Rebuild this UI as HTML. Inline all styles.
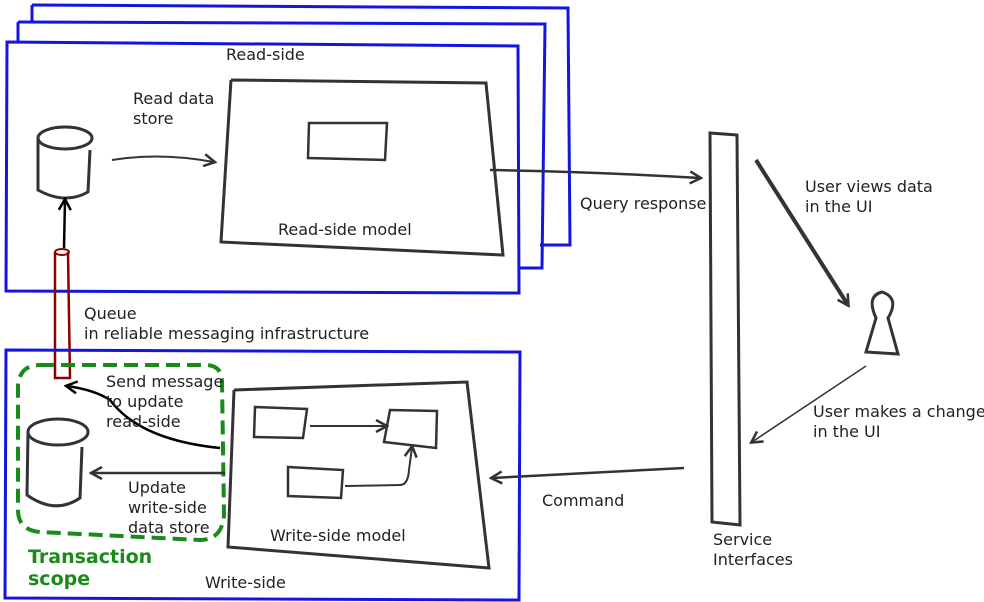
<!DOCTYPE html>
<html><head><meta charset="utf-8"><style>
html,body{margin:0;padding:0;background:#fff;}
svg{display:block;}
text{font-family:"DejaVu Sans","Liberation Sans",sans-serif;font-size:16px;fill:#222;}
</style></head><body>
<svg width="984" height="602" viewBox="0 0 984 602" xmlns="http://www.w3.org/2000/svg">
<defs>
<marker id="ah" markerWidth="14" markerHeight="14" refX="11" refY="7" orient="auto" markerUnits="userSpaceOnUse">
<path d="M1,1 L12,7 L1,13" fill="none" stroke="#333" stroke-width="2.5"/>
</marker>
<marker id="ahb" markerWidth="14" markerHeight="14" refX="11" refY="7" orient="auto" markerUnits="userSpaceOnUse">
<path d="M1,1 L12,7 L1,13" fill="none" stroke="#000" stroke-width="2.5"/>
</marker>
</defs>
<path d="M32,5 L568,8 L570,245 L540,245" fill="none" stroke="#1515e0" stroke-width="3"/>
<path d="M32,5 L32,22" fill="none" stroke="#1515e0" stroke-width="3"/>
<path d="M18,22 L545,24 L542,268 L520,268" fill="none" stroke="#1515e0" stroke-width="3"/>
<path d="M18,22 L18,42" fill="none" stroke="#1515e0" stroke-width="3"/>
<path d="M7,42 L518,46 L519,293 L6,291 Z" fill="#fff" stroke="#1515e0" stroke-width="3"/>
<text x="226" y="60">Read-side</text>
<text x="133" y="104">Read data</text>
<text x="133" y="124">store</text>
<ellipse cx="65" cy="138" rx="27" ry="11" fill="none" stroke="#333" stroke-width="3"/>
<path d="M38,138 L38,190 Q65,205 88,192 L90,150" fill="none" stroke="#333" stroke-width="3"/>
<path d="M112,160 Q160,152 214,162" fill="none" stroke="#333" stroke-width="2" marker-end="url(#ah)"/>
<path d="M231,80 L486,83 L503,255 L221,242 L231,80" fill="none" stroke="#333" stroke-width="3"/>
<path d="M309,123 L387,123 L385,160 L308,158 Z" fill="none" stroke="#333" stroke-width="2.5"/>
<text x="278" y="235">Read-side model</text>
<path d="M55,252 L55,378 L70,378 L68,252" fill="none" stroke="#8b0000" stroke-width="2.5"/>
<ellipse cx="62" cy="252" rx="7" ry="3" fill="none" stroke="#8b0000" stroke-width="2"/>
<path d="M64,248 L65,200" fill="none" stroke="#000" stroke-width="2.5" marker-end="url(#ahb)"/>
<text x="84" y="319">Queue</text>
<text x="84" y="339">in reliable messaging infrastructure</text>
<path d="M6,350 L520,352 L519,600 L5,598 Z" fill="none" stroke="#1515e0" stroke-width="3"/>
<text x="205" y="588">Write-side</text>
<path d="M40,365 L205,365 Q222,365 222,382 L224,515 Q222,540 200,540 L40,532 Q18,530 18,510 L18,385 Q20,365 40,365" fill="none" stroke="#1a8a1a" stroke-width="4" stroke-dasharray="14,7"/>
<text x="28" y="563" style="fill:#1a8a1a;font-size:19px;font-weight:bold">Transaction</text>
<text x="28" y="585" style="fill:#1a8a1a;font-size:19px;font-weight:bold">scope</text>
<ellipse cx="58" cy="432" rx="30" ry="13" fill="none" stroke="#333" stroke-width="3"/>
<path d="M28,432 L27,495 Q55,515 80,498 L82,447" fill="none" stroke="#333" stroke-width="3"/>
<path d="M220,448 Q140,440 110,400 Q95,390 67,386" fill="none" stroke="#000" stroke-width="2.5" marker-end="url(#ahb)"/>
<path d="M225,473 L92,473" fill="none" stroke="#333" stroke-width="2.5" marker-end="url(#ah)"/>
<text x="106" y="387">Send message</text>
<text x="106" y="407">to update</text>
<text x="106" y="427">read-side</text>
<text x="128" y="493">Update</text>
<text x="128" y="513">write-side</text>
<text x="128" y="533">data store</text>
<path d="M234,390 L467,382 L489,568 L228,547 L234,390" fill="none" stroke="#333" stroke-width="3"/>
<path d="M255,407 L307,409 L303,438 L254,437 Z" fill="none" stroke="#333" stroke-width="2.5"/>
<path d="M390,410 L437,411 L436,448 L384,442 Z" fill="none" stroke="#333" stroke-width="2.5"/>
<path d="M288,467 L343,470 L341,498 L288,496 Z" fill="none" stroke="#333" stroke-width="2.5"/>
<path d="M310,426 L386,426" fill="none" stroke="#333" stroke-width="2" marker-end="url(#ah)"/>
<path d="M345,486 L400,485 Q408,485 409,470 L412,447" fill="none" stroke="#333" stroke-width="2" marker-end="url(#ah)"/>
<text x="270" y="541">Write-side model</text>
<path d="M710,133 L737,135 L740,525 L712,522 Z" fill="none" stroke="#333" stroke-width="3"/>
<text x="713" y="545">Service</text>
<text x="713" y="565">Interfaces</text>
<path d="M490,170 Q600,172 700,178" fill="none" stroke="#333" stroke-width="2.5" marker-end="url(#ah)"/>
<text x="580" y="209">Query response</text>
<path d="M756,160 L848,305" fill="none" stroke="#333" stroke-width="4" marker-end="url(#ah)"/>
<text x="805" y="192">User views data</text>
<text x="805" y="212">in the UI</text>
<path d="M882,292 Q866,296 876,318 L866,352 L898,354 L888,318 Q900,298 882,292 Z" fill="none" stroke="#333" stroke-width="3"/>
<path d="M866,366 L752,442" fill="none" stroke="#333" stroke-width="1.5" marker-end="url(#ah)"/>
<text x="813" y="417">User makes a change</text>
<text x="813" y="437">in the UI</text>
<path d="M684,468 Q600,472 492,478" fill="none" stroke="#333" stroke-width="2.5" marker-end="url(#ah)"/>
<text x="542" y="506">Command</text>
</svg>
</body></html>
